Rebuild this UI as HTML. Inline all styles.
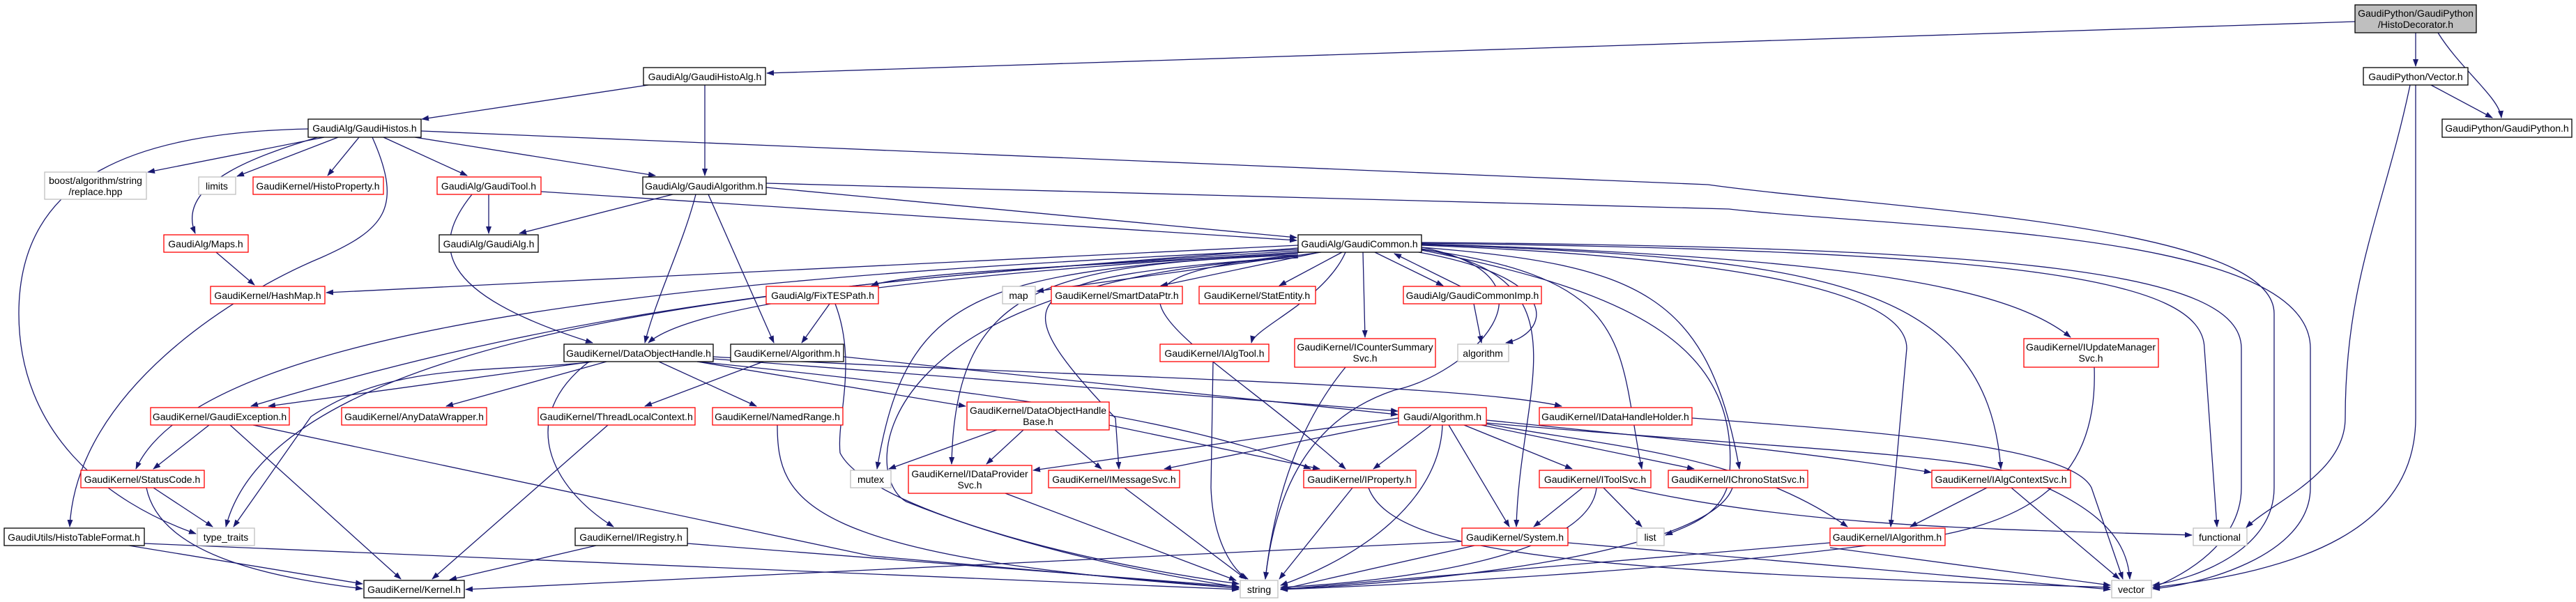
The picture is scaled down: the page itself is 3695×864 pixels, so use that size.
<!DOCTYPE html>
<html><head><meta charset="utf-8"><style>
html,body{margin:0;padding:0;background:#fff}
svg{display:block}
text{font-family:"Liberation Sans",Arial,sans-serif;font-size:14px;fill:#000}
.e{fill:none;stroke:#191970;stroke-width:1.3;marker-end:url(#a)}
.b{fill:#fff;stroke:#000;stroke-width:1.3}
.r{fill:#fff;stroke:#ff0000;stroke-width:1.3}
.g{fill:#fff;stroke:#bfbfbf;stroke-width:1.3}
</style></head><body>
<svg width="3695" height="864" viewBox="0 0 3695 864" xmlns="http://www.w3.org/2000/svg">
<defs><marker id="a" markerWidth="11" markerHeight="8" refX="10" refY="4" orient="auto" markerUnits="userSpaceOnUse"><path d="M0,0 L11,4 L0,8 z" fill="#191970"/></marker></defs>
<g>
<path class="e" d="M3378,31 L1100,105"/>
<path class="e" d="M3465,47 L3465,95"/>
<path class="e" d="M3497,47 C3530,100 3585,140 3588,169"/>
<path class="e" d="M3487,122 L3575,169"/>
<path class="e" d="M3457,122 C3420,300 3364,400 3364,600 C3364,680 3260,720 3222,757"/>
<path class="e" d="M3465,122 L3465,600 C3465,760 3300,820 3088,843"/>
<path class="e" d="M930,122 L605,171"/>
<path class="e" d="M1011,122 L1011,252"/>
<path class="e" d="M465,197 L212,247"/>
<path class="e" d="M485,197 L340,253"/>
<path class="e" d="M515,197 L470,252"/>
<path class="e" d="M550,197 L670,252"/>
<path class="e" d="M595,197 L940,252"/>
<path class="e" d="M465,194 C380,220 250,260 280,335"/>
<path class="e" d="M534,197 C580,300 550,330 460,370 C340,420 110,560 100,756"/>
<path class="e" d="M442,185 C200,190 27,250 27,450 C27,620 150,720 281,766"/>
<path class="e" d="M604,188 L2450,265 C2700,300 3262,320 3262,450 L3262,700 C3262,790 3150,830 3088,840"/>
<path class="e" d="M965,279 L745,335"/>
<path class="e" d="M998,279 C980,350 940,430 925,492"/>
<path class="e" d="M1016,279 L1110,492"/>
<path class="e" d="M1099,269 L1860,341"/>
<path class="e" d="M1099,263 L2480,300 C2750,330 3314,330 3314,500 L3314,700 C3314,800 3150,840 3088,845"/>
<path class="e" d="M701,279 L701,335"/>
<path class="e" d="M677,279 C620,350 620,420 850,492"/>
<path class="e" d="M776,275 L1860,345"/>
<path class="e" d="M310,362 L365,409"/>
<path class="e" d="M1862,352 L468,420"/>
<path class="e" d="M1862,356 C1300,400 900,420 360,583"/>
<path class="e" d="M1862,358 C1200,390 300,440 195,673"/>
<path class="e" d="M1862,360 C1200,400 400,460 324,756"/>
<path class="e" d="M1870,362 C1400,390 1000,430 930,492"/>
<path class="e" d="M1862,362 C1600,380 1300,390 1250,410"/>
<path class="e" d="M1895,362 L1487,418"/>
<path class="e" d="M1893,362 L1665,410"/>
<path class="e" d="M1925,362 L1835,410"/>
<path class="e" d="M1972,362 L2070,410"/>
<path class="e" d="M2095,411 L2000,364"/>
<path class="e" d="M1930,362 C1900,430 1800,470 1795,492"/>
<path class="e" d="M1955,362 L1958,484"/>
<path class="e" d="M2114,436 L2125,492"/>
<path class="e" d="M2035,362 C2250,400 2220,480 2160,492"/>
<path class="e" d="M1862,366 C1500,380 1370,410 1365,666"/>
<path class="e" d="M1862,368 C1450,400 1430,420 1600,600 L1605,673"/>
<path class="e" d="M1862,364 C1400,390 1300,420 1258,673"/>
<path class="e" d="M2040,355 C2260,400 2100,540 2000,560 C1880,600 1830,700 1815,831"/>
<path class="e" d="M2039,357 C2280,400 2180,550 2175,756"/>
<path class="e" d="M2039,358 C2350,400 2320,500 2355,673"/>
<path class="e" d="M2039,355 C2350,380 2450,420 2495,673"/>
<path class="e" d="M2039,352 C2500,370 2735,420 2735,500 L2712,756"/>
<path class="e" d="M2039,351 C2600,370 2850,400 2870,673"/>
<path class="e" d="M2039,350 C2700,370 2890,420 2970,484"/>
<path class="e" d="M2039,349 C2900,360 3160,400 3162,500 L3180,756"/>
<path class="e" d="M2039,348 C2900,355 3215,390 3215,500 L3215,700 C3215,790 3110,835 3088,843"/>
<path class="e" d="M2039,359 C2350,420 2500,500 2480,690 C2470,740 2420,755 2389,768"/>
<path class="e" d="M1862,370 C1250,400 1230,680 1300,720 C1500,800 1700,830 1777,843"/>
<path class="e" d="M1862,366 C1500,400 1700,470 1930,673"/>
<path class="e" d="M1190,436 L1150,492"/>
<path class="e" d="M1198,436 C1230,520 1200,600 1205,650 C1240,720 1500,800 1777,838"/>
<path class="e" d="M850,519 L385,583"/>
<path class="e" d="M870,519 L640,583"/>
<path class="e" d="M945,519 L1085,583"/>
<path class="e" d="M845,519 C740,600 790,700 880,756"/>
<path class="e" d="M845,520 C700,535 560,520 446,598 L335,756"/>
<path class="e" d="M1000,519 L1385,583"/>
<path class="e" d="M1000,519 C1400,560 1700,600 1880,673"/>
<path class="e" d="M1023,515 L2005,590"/>
<path class="e" d="M1023,512 C1500,540 2100,550 2240,583"/>
<path class="e" d="M1095,519 L925,583"/>
<path class="e" d="M1210,512 L2005,595"/>
<path class="e" d="M300,610 L220,673"/>
<path class="e" d="M330,610 L575,831"/>
<path class="e" d="M363,610 L1250,798 L1777,844"/>
<path class="e" d="M220,700 L305,756"/>
<path class="e" d="M210,700 C230,800 400,830 520,845"/>
<path class="e" d="M185,783 L520,838"/>
<path class="e" d="M207,780 L1777,846"/>
<path class="e" d="M855,783 L645,832"/>
<path class="e" d="M986,780 L1777,842"/>
<path class="e" d="M872,610 L620,831"/>
<path class="e" d="M1115,610 C1115,720 1150,800 1777,844"/>
<path class="e" d="M1430,617 L1275,673"/>
<path class="e" d="M1468,617 L1415,666"/>
<path class="e" d="M1513,617 L1580,673"/>
<path class="e" d="M1590,610 L1893,673"/>
<path class="e" d="M2006,600 L1482,675"/>
<path class="e" d="M2006,605 L1670,673"/>
<path class="e" d="M2053,610 L1970,673"/>
<path class="e" d="M2069,610 C2065,720 1950,800 1837,840"/>
<path class="e" d="M2078,610 L2165,756"/>
<path class="e" d="M2100,610 L2255,673"/>
<path class="e" d="M2130,608 C2300,640 2500,650 2650,756"/>
<path class="e" d="M2125,610 L2430,673"/>
<path class="e" d="M2132,603 C2400,630 2600,650 2770,678"/>
<path class="e" d="M2132,607 C2500,640 2800,650 2890,680 C2990,720 3050,760 3055,831"/>
<path class="e" d="M2427,600 C2700,620 2970,640 3000,700 L3045,831"/>
<path class="e" d="M1442,708 L1773,833"/>
<path class="e" d="M1613,700 L1787,831"/>
<path class="e" d="M1940,700 L1835,831"/>
<path class="e" d="M1963,700 C2000,800 2300,820 3027,843"/>
<path class="e" d="M2270,700 L2200,756"/>
<path class="e" d="M2300,700 L2355,756"/>
<path class="e" d="M2290,700 C2280,800 2000,835 1837,843"/>
<path class="e" d="M2335,700 C2600,760 2900,760 3144,768"/>
<path class="e" d="M2485,700 C2450,800 2000,840 1837,845"/>
<path class="e" d="M2850,700 L2740,756"/>
<path class="e" d="M2885,700 L3040,831"/>
<path class="e" d="M2115,783 L1837,846"/>
<path class="e" d="M2097,777 L668,846"/>
<path class="e" d="M2249,779 L3027,846"/>
<path class="e" d="M2625,779 L1837,846"/>
<path class="e" d="M2625,786 L3027,840"/>
<path class="e" d="M3004,527 C3010,700 2900,760 2700,780 C2400,820 2000,840 1837,846"/>
<path class="e" d="M1740,519 L1737,700 C1740,780 1770,820 1790,831"/>
<path class="e" d="M1930,527 C1870,600 1830,700 1815,831"/>
</g>
<g text-anchor="middle">
<rect x="3378" y="7" width="174" height="40" fill="#bfbfbf" stroke="#000" stroke-width="1.3"/><text x="3465" y="24">GaudiPython/GaudiPython</text><text x="3465" y="40">/HistoDecorator.h</text>
<rect class="b" x="3390" y="97" width="150" height="25"/><text x="3465" y="115">GaudiPython/Vector.h</text>
<rect class="b" x="3503" y="171" width="186" height="26"/><text x="3596" y="189">GaudiPython/GaudiPython.h</text>
<rect class="b" x="923" y="97" width="175" height="25"/><text x="1011" y="115">GaudiAlg/GaudiHistoAlg.h</text>
<rect class="b" x="442" y="171" width="162" height="26"/><text x="523" y="189">GaudiAlg/GaudiHistos.h</text>
<rect class="g" x="64" y="247" width="146" height="39"/><text x="137" y="264">boost/algorithm/string</text><text x="137" y="280">/replace.hpp</text>
<rect class="g" x="285" y="254" width="53" height="25"/><text x="311" y="272">limits</text>
<rect class="r" x="363" y="254" width="187" height="25"/><text x="456" y="272">GaudiKernel/HistoProperty.h</text>
<rect class="r" x="627" y="254" width="149" height="25"/><text x="701" y="272">GaudiAlg/GaudiTool.h</text>
<rect class="b" x="922" y="254" width="177" height="25"/><text x="1010" y="272">GaudiAlg/GaudiAlgorithm.h</text>
<rect class="r" x="235" y="337" width="121" height="25"/><text x="295" y="355">GaudiAlg/Maps.h</text>
<rect class="b" x="630" y="337" width="142" height="25"/><text x="701" y="355">GaudiAlg/GaudiAlg.h</text>
<rect class="b" x="1862" y="337" width="177" height="25"/><text x="1950" y="355">GaudiAlg/GaudiCommon.h</text>
<rect class="r" x="302" y="411" width="164" height="25"/><text x="384" y="429">GaudiKernel/HashMap.h</text>
<rect class="g" x="1438" y="411" width="47" height="25"/><text x="1461" y="429">map</text>
<rect class="r" x="1508" y="411" width="188" height="25"/><text x="1602" y="429">GaudiKernel/SmartDataPtr.h</text>
<rect class="r" x="1720" y="411" width="167" height="25"/><text x="1803" y="429">GaudiKernel/StatEntity.h</text>
<rect class="r" x="1099" y="411" width="161" height="25"/><text x="1180" y="429">GaudiAlg/FixTESPath.h</text>
<rect class="r" x="2013" y="411" width="198" height="25"/><text x="2112" y="429">GaudiAlg/GaudiCommonImp.h</text>
<rect class="b" x="809" y="494" width="214" height="25"/><text x="916" y="512">GaudiKernel/DataObjectHandle.h</text>
<rect class="b" x="1048" y="494" width="162" height="25"/><text x="1129" y="512">GaudiKernel/Algorithm.h</text>
<rect class="r" x="1664" y="494" width="156" height="25"/><text x="1742" y="512">GaudiKernel/IAlgTool.h</text>
<rect class="r" x="1857" y="486" width="202" height="41"/><text x="1958" y="503">GaudiKernel/ICounterSummary</text><text x="1958" y="519">Svc.h</text>
<rect class="g" x="2091" y="494" width="73" height="25"/><text x="2127" y="512">algorithm</text>
<rect class="r" x="2903" y="486" width="193" height="41"/><text x="2999" y="503">GaudiKernel/IUpdateManager</text><text x="2999" y="519">Svc.h</text>
<rect class="r" x="216" y="585" width="199" height="25"/><text x="315" y="603">GaudiKernel/GaudiException.h</text>
<rect class="r" x="490" y="585" width="208" height="25"/><text x="594" y="603">GaudiKernel/AnyDataWrapper.h</text>
<rect class="r" x="772" y="585" width="225" height="25"/><text x="884" y="603">GaudiKernel/ThreadLocalContext.h</text>
<rect class="r" x="1022" y="585" width="187" height="25"/><text x="1115" y="603">GaudiKernel/NamedRange.h</text>
<rect class="r" x="1387" y="577" width="204" height="40"/><text x="1489" y="594">GaudiKernel/DataObjectHandle</text><text x="1489" y="610">Base.h</text>
<rect class="r" x="2006" y="585" width="126" height="25"/><text x="2069" y="603">Gaudi/Algorithm.h</text>
<rect class="r" x="2208" y="585" width="219" height="25"/><text x="2317" y="603">GaudiKernel/IDataHandleHolder.h</text>
<rect class="r" x="116" y="675" width="177" height="25"/><text x="204" y="693">GaudiKernel/StatusCode.h</text>
<rect class="g" x="1220" y="675" width="58" height="25"/><text x="1249" y="693">mutex</text>
<rect class="r" x="1303" y="668" width="177" height="40"/><text x="1391" y="685">GaudiKernel/IDataProvider</text><text x="1391" y="701">Svc.h</text>
<rect class="r" x="1504" y="675" width="188" height="25"/><text x="1598" y="693">GaudiKernel/IMessageSvc.h</text>
<rect class="r" x="1870" y="675" width="161" height="25"/><text x="1950" y="693">GaudiKernel/IProperty.h</text>
<rect class="r" x="2208" y="675" width="160" height="25"/><text x="2288" y="693">GaudiKernel/IToolSvc.h</text>
<rect class="r" x="2393" y="675" width="200" height="25"/><text x="2493" y="693">GaudiKernel/IChronoStatSvc.h</text>
<rect class="r" x="2771" y="675" width="199" height="25"/><text x="2870" y="693">GaudiKernel/IAlgContextSvc.h</text>
<rect class="b" x="6" y="758" width="201" height="25"/><text x="106" y="776">GaudiUtils/HistoTableFormat.h</text>
<rect class="g" x="283" y="758" width="82" height="25"/><text x="324" y="776">type_traits</text>
<rect class="b" x="825" y="758" width="161" height="25"/><text x="905" y="776">GaudiKernel/IRegistry.h</text>
<rect class="r" x="2097" y="758" width="152" height="25"/><text x="2173" y="776">GaudiKernel/System.h</text>
<rect class="g" x="2348" y="758" width="39" height="25"/><text x="2367" y="776">list</text>
<rect class="r" x="2625" y="758" width="165" height="25"/><text x="2707" y="776">GaudiKernel/IAlgorithm.h</text>
<rect class="g" x="3146" y="758" width="77" height="25"/><text x="3184" y="776">functional</text>
<rect class="b" x="522" y="833" width="144" height="25"/><text x="594" y="851">GaudiKernel/Kernel.h</text>
<rect class="g" x="1779" y="833" width="54" height="25"/><text x="1806" y="851">string</text>
<rect class="g" x="3029" y="833" width="57" height="25"/><text x="3057" y="851">vector</text>
</g>
</svg>
</body></html>
